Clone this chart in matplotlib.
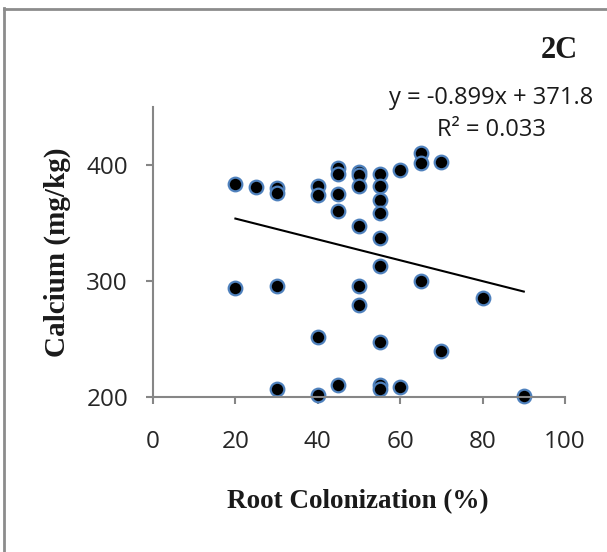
import matplotlib
matplotlib.use("Agg")
import matplotlib.pyplot as plt
from matplotlib.lines import Line2D
import numpy as np

# root colonization (%) and calcium (mg/kg)
colonization = [20, 20,
                25,
                30, 30, 30, 30,
                40, 40, 40, 40,
                45, 45, 45, 45, 45,
                50, 50, 50, 50, 50, 50,
                55, 55, 55, 55, 55, 55, 55, 55, 55,
                60, 60,
                65, 65, 65,
                70, 70,
                80,
                90]
calcium = [384, 294,
           381,
           380, 376, 296, 207,
           382, 374, 252, 202,
           397, 392, 375, 360, 210,
           394, 391, 382, 347, 296, 279,
           392, 382, 370, 359, 337, 313, 247, 210, 207,
           396, 209,
           410, 402, 300,
           403, 240,
           285,
           201]

slope = -0.899
intercept = 371.8
r_squared = 0.033

x_ticks = [0, 20, 40, 60, 80, 100]
y_ticks = [200, 300, 400]

W, H = 607, 552
fig = plt.figure(figsize=(W / 100, H / 100), dpi=100)

grey = "#868686"
tick_font = "Open Sans"
serif = "Liberation Serif"

ax = fig.add_axes([153 / W, 1 - 397 / H, (565 - 153) / W, (397 - 107) / H])

ax.scatter(colonization, calcium, s=9.8 ** 2, facecolor="black",
           edgecolor="#4F81BD", linewidth=1.6, zorder=2, clip_on=False)

xs = np.array([min(colonization), max(colonization)])
ax.plot(xs, slope * xs + intercept, color="black", linewidth=1.5, zorder=3)

ax.set_xlim(0, 100)
ax.set_ylim(200, 450)
ax.set_xticks(x_ticks)
ax.set_yticks(y_ticks)
ax.set_xticklabels([str(t) for t in x_ticks], fontfamily=tick_font, fontsize=17.5, color="#262626")
ax.set_yticklabels([str(t) for t in y_ticks], fontfamily=tick_font, fontsize=17.5, color="#262626")

for side in ["top", "right"]:
    ax.spines[side].set_visible(False)
for side in ["left", "bottom"]:
    ax.spines[side].set_color(grey)
    ax.spines[side].set_linewidth(1.5)

ax.tick_params(axis="x", direction="out", length=5, width=1.5, color=grey, pad=19)
ax.tick_params(axis="y", direction="out", length=5, width=1.5, color=grey, pad=13)

# labels and annotations
fig.text(57 / W, 1 - 252 / H, "Calcium (mg/kg)", rotation=90, ha="center", va="center",
         fontfamily=serif, fontweight="bold", fontsize=21, color="#1a1a1a")
fig.text(358 / W, 1 - 502 / H, "Root Colonization (%)", ha="center", va="center",
         fontfamily=serif, fontweight="bold", fontsize=19.5, color="#1a1a1a")
fig.text(559 / W, 1 - 51 / H, "2C", ha="center", va="center",
         fontfamily=serif, fontweight="bold", fontsize=22, color="#1a1a1a")
fig.text(491 / W, 1 - 98 / H, f"y = {slope}x + {intercept}", ha="center", va="center",
         fontfamily=tick_font, fontsize=17, color="#1a1a1a")
fig.text(491 / W, 1 - 130 / H, f"R\u00b2 = {r_squared}", ha="center", va="center",
         fontfamily=tick_font, fontsize=17, color="#1a1a1a")

# outer frame (only top and left edges visible in the crop)
fig.add_artist(Line2D([4 / W, 1], [1 - 9 / H, 1 - 9 / H], transform=fig.transFigure,
                      color="#8c8c8c", linewidth=2))
fig.add_artist(Line2D([4 / W, 4 / W], [0, 1 - 8 / H], transform=fig.transFigure,
                      color="#8c8c8c", linewidth=2))

fig.savefig("out.png", dpi=100)
